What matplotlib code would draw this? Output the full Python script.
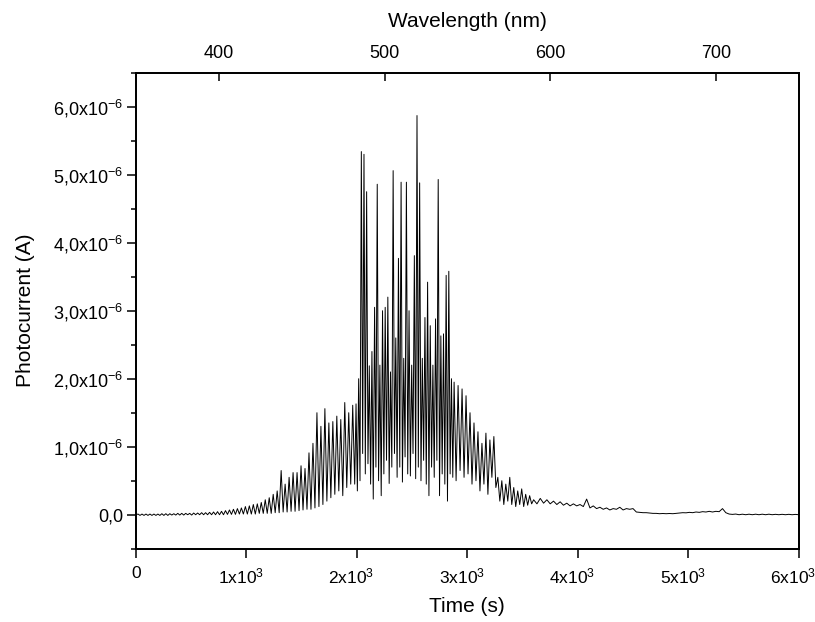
import numpy as np
import matplotlib
matplotlib.use('Agg')
import matplotlib.pyplot as plt
import matplotlib.transforms as mtransforms
from matplotlib import rcParams
from matplotlib.ticker import FixedLocator, MultipleLocator

rcParams['font.family'] = ['Liberation Sans', 'DejaVu Sans']
rcParams['mathtext.default'] = 'regular'

# photocurrent, in units of 1e-6 A,
# each block sampled on its own regular time grid (start, step in s)
rise_t0, rise_dt = 0, 18
rise = [
    0.00, 0.01, -0.01, 0.01, -0.01, 0.01, -0.01, 0.01, -0.01, 0.01,
    -0.01, 0.01, -0.01, 0.015, -0.01, 0.015, -0.01, 0.015, -0.005, 0.015,
    -0.005, 0.02, -0.005, 0.02, -0.005, 0.02, 0.0, 0.02, -0.005, 0.025,
    0.0, 0.025, 0.0, 0.03, 0.0, 0.03, 0.0, 0.035, 0.0, 0.04,
    0.0, 0.045, 0.0, 0.05, 0.0, 0.06, 0.005, 0.07, 0.005, 0.08,
    0.005, 0.09, 0.01, 0.10, 0.01, 0.12, 0.01, 0.13, 0.01, 0.15,
    0.01, 0.16, 0.02, 0.18, 0.02, 0.22, 0.02, 0.25, 0.02, 0.30,
    0.03, 0.35, 0.03, 0.65, 0.04, 0.45, 0.04, 0.55, 0.05, 0.62,
    0.05, 0.62, 0.06, 0.72, 0.07, 0.68, 0.08, 0.91, 0.08, 1.05,
    0.10, 1.50, 0.12, 1.30, 0.15, 1.56, 0.20, 1.35, 0.25, 1.37,
    0.30, 1.45, 0.35, 1.40, 0.28, 1.65, 0.40, 1.50, 0.45, 1.61,
]

burst_t0, burst_dt = 1980, 12
burst = [
    0.45, 1.63, 0.35, 2.00, 0.50, 5.34, 0.90, 5.30, 0.60, 4.75,
    0.75, 2.19, 0.45, 2.40, 0.23, 3.05, 0.70, 4.86, 0.50, 2.20,
    0.28, 3.00, 0.60, 3.05, 0.80, 3.20, 0.46, 2.10, 0.70, 5.06,
    0.90, 2.60, 0.55, 3.77, 0.70, 4.89, 0.48, 2.30, 0.85, 4.89,
    0.60, 3.00, 0.57, 2.20, 0.90, 3.81, 0.53, 5.87, 0.70, 4.88,
    0.50, 2.30, 0.80, 2.90, 0.45, 3.42, 0.28, 2.78, 0.70, 2.20,
    0.55, 2.88, 0.80, 4.93, 0.28, 2.63, 0.60, 2.66, 0.45, 3.52,
    0.20, 3.58, 0.60, 2.00, 0.55,
]

decay_t0, decay_dt = 2880, 18
decay = [
    1.95, 0.50, 1.90, 0.65, 1.85, 0.55, 1.75, 0.60, 1.50, 0.45,
    1.35, 0.50, 1.22, 0.35, 1.05, 0.45, 1.20, 0.30, 1.10, 0.55,
    1.15, 0.40, 0.55, 0.20, 0.50, 0.15, 0.45, 0.20, 0.55, 0.15,
    0.40, 0.12, 0.35, 0.15, 0.38, 0.12, 0.30, 0.14, 0.28, 0.16,
]

tail_t0, tail_dt = 3600, 30
tail = [
    0.22, 0.16, 0.24, 0.17, 0.22, 0.16, 0.20, 0.15, 0.19, 0.14,
    0.17, 0.13, 0.16, 0.13, 0.15, 0.12, 0.23, 0.10, 0.13, 0.09,
    0.11, 0.08, 0.10, 0.07, 0.09, 0.08, 0.11, 0.07, 0.09, 0.08,
    0.09, 0.04, 0.035, 0.03, 0.03, 0.025, 0.02, 0.02, 0.015, 0.018,
    0.015, 0.018, 0.015, 0.02, 0.025, 0.03, 0.028, 0.035, 0.03, 0.04,
    0.035, 0.045, 0.04, 0.05, 0.04, 0.05, 0.045, 0.09, 0.03, 0.01,
    0.005, 0.01, 0.0, 0.008, 0.0, 0.008, 0.0, 0.008, 0.0, 0.008,
    0.0, 0.008, 0.0, 0.006, 0.0, 0.006, 0.0, 0.006, 0.0, 0.005,
    0.0,
]

x_ticks = [0, 1000, 2000, 3000, 4000, 5000, 6000]
x_labels = ['0', '1x10$^3$', '2x10$^3$', '3x10$^3$', '4x10$^3$', '5x10$^3$', '6x10$^3$']
y_ticks = [0.0, 1e-6, 2e-6, 3e-6, 4e-6, 5e-6, 6e-6]
y_labels = ['0,0', '1,0x10$^{-6}$', '2,0x10$^{-6}$', '3,0x10$^{-6}$',
            '4,0x10$^{-6}$', '5,0x10$^{-6}$', '6,0x10$^{-6}$']
wl_ticks = [400, 500, 600, 700]

blocks = [(rise_t0, rise_dt, rise), (burst_t0, burst_dt, burst),
          (decay_t0, decay_dt, decay), (tail_t0, tail_dt, tail)]
time = np.concatenate([t0 + dt * np.arange(len(v)) for t0, dt, v in blocks])
current = np.concatenate([np.array(v) for _, _, v in blocks]) * 1e-6

fig = plt.figure(figsize=(8.15, 6.22), dpi=100)
ax = fig.add_axes([0.1669, 0.1178, 0.8131, 0.7653])
ax.plot(time, current, color='black', lw=0.7)

ax.set_xlim(0, 6000)
ax.set_ylim(-0.5e-6, 6.5e-6)
ax.xaxis.set_major_locator(FixedLocator(x_ticks))
ax.set_xticklabels(x_labels)
ax.yaxis.set_major_locator(FixedLocator(y_ticks))
ax.set_yticklabels(y_labels)
ax.yaxis.set_minor_locator(MultipleLocator(0.5e-6))

ax.tick_params(axis='x', which='major', labelsize=12.5, width=1.1, length=6.5,
               direction='out', top=False, pad=6)
ax.tick_params(axis='y', which='major', labelsize=13, width=1.1, length=6.5,
               direction='out', right=False, pad=2.5)
ax.tick_params(axis='y', which='minor', width=1.1, length=3.6, direction='out', right=False)

# the base text sits on the tick, the exponent hangs to the right
shift = mtransforms.ScaledTranslation(-4 / 72, 0, fig.dpi_scale_trans)
for lbl in ax.get_xticklabels()[1:]:
    lbl.set_transform(lbl.get_transform() + shift)

ax.set_xlabel('Time (s)', fontsize=15, labelpad=8)
ax.set_ylabel('Photocurrent (A)', fontsize=15, labelpad=13)
for s in ax.spines.values():
    s.set_linewidth(1.3)

ax2 = ax.twiny()
ax2.set_xlim(350, 750)
ax2.xaxis.set_major_locator(FixedLocator(wl_ticks))
ax2.tick_params(axis='x', which='major', labelsize=13, width=1.1, length=6,
                direction='in', pad=8)
ax2.set_xlabel('Wavelength (nm)', fontsize=15, labelpad=13)
for s in ax2.spines.values():
    s.set_linewidth(1.3)

fig.savefig('out.png', dpi=100)
